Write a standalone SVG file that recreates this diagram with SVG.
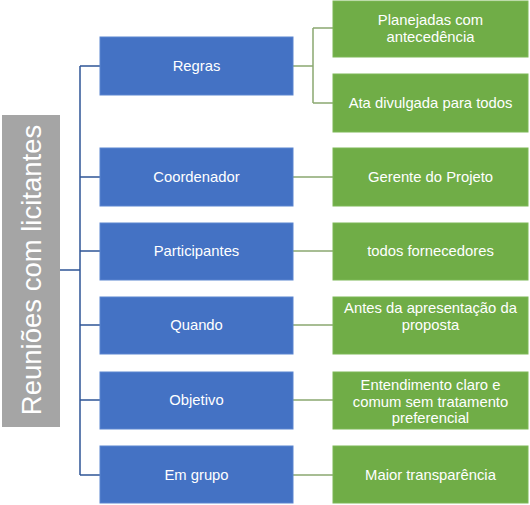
<svg xmlns="http://www.w3.org/2000/svg" width="530" height="505" viewBox="0 0 530 505">
<style>
.blue{fill:#4472C4;stroke:#5B85D0;stroke-width:1}
.green{fill:#70AD47;stroke:#7DB856;stroke-width:1}
.root{fill:#A5A5A5}
text{font-family:"Liberation Sans",Arial,sans-serif;fill:#fff;text-anchor:middle;font-size:14.8px}
.rt{font-size:27.5px}
.cb{fill:none;stroke:#2F5597;stroke-width:1.5}
.cg{fill:none;stroke:#8BA870;stroke-width:1.5}
</style>
<rect width="530" height="505" fill="#fff"/>
<g id="connectors">
<path class="cb" d="M60 270H80M80 66V475M80 66H100M80 177H100M80 251H100M80 325H100M80 400H100M80 475H100"/>
<path class="cg" d="M293 66H313M313 28V103M313 28H333M313 103H333M293 177H333M293 251H333M293 325H333M293 400H333M293 475H333"/>
</g>
<g id="root"><rect class="root" x="2" y="115" width="58" height="312"/><text class="rt" transform="translate(41,270) rotate(-90)">Reuniões com licitantes</text></g>
<g id="regras"><rect class="blue" x="100" y="37" width="193" height="58"/><text x="196.5" y="71">Regras</text></g>
<g id="coordenador"><rect class="blue" x="100" y="148" width="193" height="58"/><text x="196.5" y="182">Coordenador</text></g>
<g id="participantes"><rect class="blue" x="100" y="223" width="193" height="57"/><text x="196.5" y="256">Participantes</text></g>
<g id="quando"><rect class="blue" x="100" y="297" width="193" height="57"/><text x="196.5" y="330">Quando</text></g>
<g id="objetivo"><rect class="blue" x="100" y="372" width="193" height="57"/><text x="196.5" y="405">Objetivo</text></g>
<g id="emgrupo"><rect class="blue" x="100" y="446" width="193" height="57"/><text x="196.5" y="480">Em grupo</text></g>
<g id="planejadas"><rect class="green" x="333" y="1" width="195" height="56"/><text x="430.5" y="25">Planejadas com</text><text x="430.5" y="42">antecedência</text></g>
<g id="ata"><rect class="green" x="333" y="74" width="195" height="58"/><text x="430.5" y="108">Ata divulgada para todos</text></g>
<g id="gerente"><rect class="green" x="333" y="148" width="195" height="58"/><text x="430.5" y="182">Gerente do Projeto</text></g>
<g id="fornecedores"><rect class="green" x="333" y="223" width="195" height="57"/><text x="430.5" y="256">todos fornecedores</text></g>
<g id="antes"><rect class="green" x="333" y="297" width="195" height="57"/><text x="430.5" y="313">Antes da apresentação da</text><text x="430.5" y="330">proposta</text></g>
<g id="entendimento"><rect class="green" x="333" y="372" width="195" height="57"/><text x="430.5" y="390">Entendimento claro e</text><text x="430.5" y="407">comum sem tratamento</text><text x="430.5" y="423">preferencial</text></g>
<g id="transparencia"><rect class="green" x="333" y="446" width="195" height="57"/><text x="430.5" y="480">Maior transparência</text></g>
</svg>
